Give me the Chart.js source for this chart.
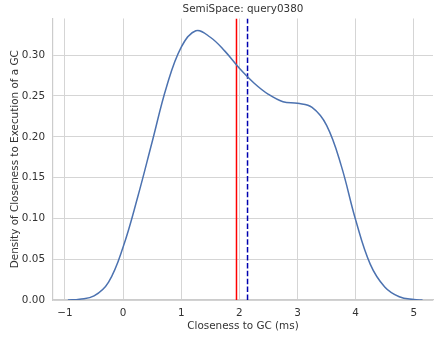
<!DOCTYPE html>
<html>
<head>
<meta charset="utf-8">
<script src="https://cdn.jsdelivr.net/npm/chart.js@4"></script>
<style>
  body { margin: 0; background: #fff; }
  #wrap { width: 434px; height: 337px; }
</style>
</head>
<body>
<div id="wrap"><canvas id="kdeChart" width="434" height="337"></canvas></div>
<script>
// ================= DATA =================
const xTicks = [-1, 0, 1, 2, 3, 4, 5];
const yTicks = [0, 0.05, 0.10, 0.15, 0.20, 0.25, 0.30];

// densidad (kde)
const kdeX = [-0.95, -0.75, -0.5, -0.25, 0, 0.25, 0.5, 0.75, 1.0, 1.25, 1.5, 1.75, 2.0,
              2.25, 2.5, 2.75, 3.0, 3.25, 3.5, 3.75, 4.0, 4.25, 4.5, 4.75, 5.0, 5.15];
const kdeY = [0.000, 0.001, 0.005, 0.022, 0.065, 0.126, 0.194, 0.262, 0.310, 0.330, 0.322, 0.305, 0.284,
              0.266, 0.252, 0.243, 0.241, 0.236, 0.214, 0.165, 0.098, 0.044, 0.016, 0.004, 0.0005, 0.000];

const medianX = 1.95;   // linea roja
const meanX = 2.14;     // linea azul punteada

const xMin = -1.206, xMax = 5.33;
const yMin = 0, yMax = 0.345;

const FONT = "'DejaVu Sans', sans-serif";
const FSIZE = 10.4;
const GRID = "#d5d5d5";
const TEXT = "#333333";

// ================= CHART =================
const ctx = document.getElementById("kdeChart").getContext("2d");

new Chart(ctx, {
  type: "line",
  data: {
    datasets: [
      {
        data: kdeX.map((x, i) => ({ x, y: kdeY[i] })),
        borderColor: "#4c72b0",
        borderWidth: 1.5,
        pointRadius: 0,
        tension: 0.4,
        fill: false
      },
      {
        data: [{ x: medianX, y: yMin }, { x: medianX, y: yMax }],
        borderColor: "#ff0000",
        borderWidth: 1.5,
        pointRadius: 0
      },
      {
        data: [{ x: meanX, y: yMin }, { x: meanX, y: yMax }],
        borderColor: "#0000b0",
        borderWidth: 1.5,
        borderDash: [5.5, 2.4],
        pointRadius: 0
      }
    ]
  },
  options: {
    responsive: false,
    animation: false,
    layout: { padding: { top: 0, right: 1, bottom: 0, left: 0 } },
    plugins: {
      legend: { display: false },
      tooltip: { enabled: false },
      title: {
        display: true,
        text: "SemiSpace: query0380",
        fullSize: false,
        color: TEXT,
        font: { family: FONT, size: FSIZE, weight: "normal", lineHeight: 1.2 },
        padding: { top: 3, bottom: 3 }
      }
    },
    scales: {
      x: {
        type: "linear",
        min: xMin,
        max: xMax,
        afterBuildTicks: s => { s.ticks = xTicks.map(v => ({ value: v })); },
        afterFit: s => { s.height = 37; },
        grid: { color: GRID, lineWidth: 1, drawTicks: false },
        border: { display: true, color: "#cccccc", width: 1.2 },
        ticks: {
          color: TEXT,
          padding: 7,
          maxRotation: 0,
          font: { family: FONT, size: FSIZE },
          callback: v => v < 0 ? "\u2212" + Math.abs(v) : String(v)
        },
        title: {
          display: true,
          text: "Closeness to GC (ms)",
          color: TEXT,
          font: { family: FONT, size: FSIZE, lineHeight: 1.2 },
          padding: { top: 0, bottom: 4 }
        }
      },
      y: {
        type: "linear",
        min: yMin,
        max: yMax,
        afterBuildTicks: s => { s.ticks = yTicks.map(v => ({ value: v })); },
        afterFit: s => { s.width = 53; },
        grid: { color: GRID, lineWidth: 1, drawTicks: false },
        border: { display: true, color: "#cccccc", width: 1.2 },
        ticks: {
          color: TEXT,
          padding: 8,
          font: { family: FONT, size: FSIZE },
          callback: v => v.toFixed(2)
        },
        title: {
          display: true,
          text: "Density of Closeness to Execution of a GC",
          color: TEXT,
          font: { family: FONT, size: FSIZE, lineHeight: 1.2 },
          padding: { top: 9, bottom: 0 }
        }
      }
    }
  }
});
</script>
</body>
</html>
